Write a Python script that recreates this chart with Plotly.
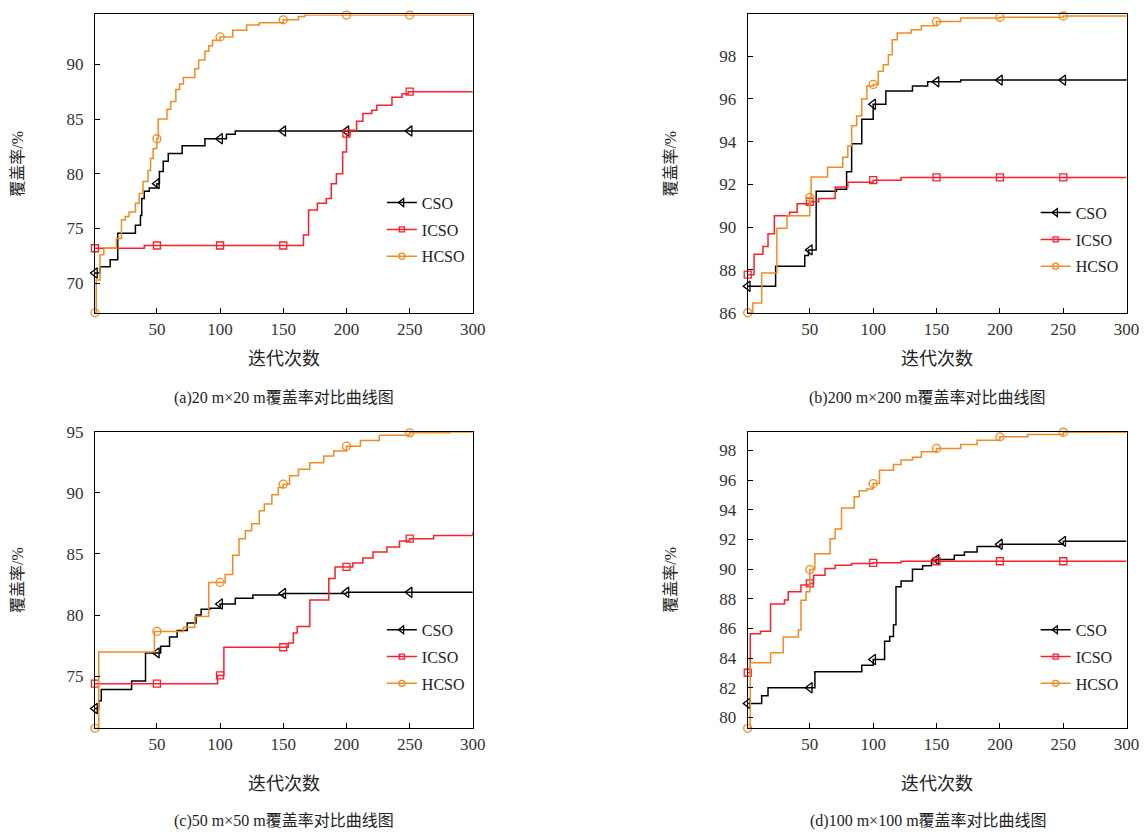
import plotly.graph_objects as go

# ---------------- data (step curves: iteration, coverage %) ----------------
marker_iters = [1, 50, 100, 150, 200, 250]
x_ticks = [50, 100, 150, 200, 250, 300]

# (a) 20 m x 20 m
a_cso_x = [1, 5, 13, 19, 33, 37, 38, 40, 44, 50, 52, 55, 59, 70, 88, 105, 112, 300]
a_cso_y = [70.94, 71.5, 72.15, 74.57, 75.3, 76.2, 77.75, 78.4, 78.7, 79.1, 80.2, 81.15, 81.85, 82.55, 83.2, 83.6, 83.9, 83.9]
a_icso_x = [1, 40, 166, 170, 177, 184, 188, 192, 197, 200, 203, 208, 213, 220, 224, 236, 244, 249, 300]
a_icso_y = [73.2, 73.45, 74.4, 76.7, 77.3, 77.75, 79.1, 80.0, 82.0, 83.66, 83.97, 84.8, 85.5, 85.8, 86.25, 87.0, 87.3, 87.5, 87.5]
a_hcso_x = [1, 2, 5, 8, 18, 22, 25, 28, 33, 36, 39, 43, 45, 47, 50, 51, 58, 61, 65, 68, 71, 80, 83, 88, 91, 94, 100, 110, 121, 131, 150, 162, 167, 300]
a_hcso_y = [67.3, 70.3, 72.6, 73.2, 74.1, 75.8, 76.1, 76.5, 77.3, 78.2, 79.3, 80.3, 81.4, 82.3, 83.2, 85.0, 85.9, 86.6, 87.7, 88.2, 88.8, 89.6, 90.4, 91.2, 91.7, 92.2, 92.5, 93.1, 93.6, 93.8, 94.06, 94.36, 94.5, 94.5]
a_yticks = [70, 75, 80, 85, 90]
a_yrange = [67.27, 94.55]

# (b) 200 m x 200 m
b_cso_x = [1, 23, 46, 49, 50, 55, 71, 79, 83, 91, 100, 110, 131, 143, 169, 300]
b_cso_y = [87.24, 88.17, 88.68, 88.94, 88.94, 91.68, 91.77, 92.6, 93.9, 95.05, 95.75, 96.37, 96.6, 96.8, 96.88, 96.94]
b_icso_x = [1, 6, 13, 17, 22, 34, 40, 50, 57, 70, 80, 100, 122, 300]
b_icso_y = [87.78, 88.74, 89.1, 89.7, 90.54, 90.7, 91.1, 91.19, 91.34, 91.88, 92.1, 92.2, 92.33, 92.33]
b_hcso_x = [1, 5, 12, 24, 32, 50, 51, 64, 76, 80, 83, 87, 91, 95, 100, 104, 108, 112, 115, 119, 130, 138, 150, 169, 200, 250, 300]
b_hcso_y = [86.0, 86.46, 87.86, 89.95, 90.54, 91.4, 92.35, 92.8, 93.27, 93.8, 94.75, 95.2, 96.0, 96.6, 96.68, 97.3, 97.6, 98.07, 98.77, 99.08, 99.24, 99.42, 99.62, 99.78, 99.82, 99.88, 99.9]
b_yticks = [86, 88, 90, 92, 94, 96, 98]
b_yrange = [85.98, 99.95]

# (c) 50 m x 50 m
c_cso_x = [1, 4, 6, 30, 41, 50, 53, 60, 66, 74, 81, 85, 92, 100, 112, 126, 150, 200, 300]
c_cso_y = [72.34, 72.97, 73.9, 74.6, 76.9, 76.9, 77.44, 78.2, 78.74, 79.34, 80.0, 80.47, 80.55, 80.9, 81.37, 81.64, 81.77, 81.86, 81.86]
c_icso_x = [1, 98, 103, 154, 158, 161, 171, 186, 191, 200, 205, 213, 221, 232, 242, 250, 269, 300]
c_icso_y = [74.38, 75.05, 77.36, 77.7, 78.52, 79.07, 81.23, 82.99, 83.94, 83.94, 84.27, 84.67, 85.16, 85.57, 86.06, 86.25, 86.52, 86.79]
c_hcso_x = [1, 4, 48, 50, 71, 80, 91, 100, 104, 110, 115, 120, 125, 131, 135, 141, 146, 150, 155, 162, 171, 182, 190, 200, 211, 226, 250, 282, 300]
c_hcso_y = [70.72, 76.98, 78.66, 78.66, 79.0, 79.88, 82.67, 82.67, 83.32, 84.9, 86.25, 86.9, 87.47, 88.55, 89.1, 89.85, 90.45, 90.72, 91.4, 91.94, 92.48, 93.02, 93.43, 93.83, 94.3, 94.73, 94.92, 95.0, 95.0]
c_yticks = [75, 80, 85, 90, 95]
c_yrange = [70.72, 95.02]

# (d) 100 m x 100 m
d_cso_x = [1, 12, 17, 50, 54, 91, 100, 109, 113, 116, 118, 122, 131, 139, 146, 150, 164, 172, 182, 200, 250, 300]
d_cso_y = [80.94, 81.45, 82.0, 82.0, 83.08, 83.52, 83.9, 85.13, 85.46, 86.25, 88.81, 89.19, 89.99, 90.22, 90.6, 90.64, 90.93, 91.15, 91.53, 91.67, 91.87, 91.87]
d_icso_x = [1, 3, 11, 19, 30, 33, 43, 50, 53, 62, 70, 83, 100, 122, 300]
d_icso_y = [83.01, 85.64, 85.8, 87.65, 87.92, 88.48, 88.92, 89.03, 89.59, 90.04, 90.26, 90.37, 90.42, 90.53, 90.53]
d_hcso_x = [1, 3, 19, 29, 41, 43, 47, 50, 54, 66, 70, 75, 85, 89, 95, 100, 105, 116, 122, 131, 138, 150, 169, 182, 200, 222, 250, 300]
d_hcso_y = [79.26, 83.68, 84.35, 85.42, 85.9, 87.9, 88.48, 89.97, 91.04, 92.05, 92.7, 94.12, 94.88, 95.28, 95.4, 95.77, 96.66, 97.06, 97.35, 97.55, 97.91, 98.14, 98.4, 98.69, 98.92, 99.07, 99.23, 99.25]
d_yticks = [80, 82, 84, 86, 88, 90, 92, 94, 96, 98]
d_yrange = [79.26, 99.27]

series_names = ["CSO", "ICSO", "HCSO"]
captions = ["(a)20 m×20 m覆盖率对比曲线图", "(b)200 m×200 m覆盖率对比曲线图",
            "(c)50 m×50 m覆盖率对比曲线图", "(d)100 m×100 m覆盖率对比曲线图"]
x_title = "迭代次数"
y_title = "覆盖率/%"

# ---------------- styling / layout ----------------
W, H = 1146, 837
# calibration of target picture positions to page positions
SX, SY, OY = 0.989, 0.9816, 6.5
FONT = "Liberation Serif, 'Noto Sans CJK SC', serif"
styles = [
    dict(color="#000000", symbol="triangle-left-open", size=9),
    dict(color="#FF1F2A", symbol="square-open", size=7),
    dict(color="#F58A1F", symbol="circle-open", size=8),
]


def px_x(v):
    return (v / SX) / W


def px_y(v):
    f = (v - OY) / SY
    return 1 - f / H


panels = [
    dict(data=[(a_cso_x, a_cso_y), (a_icso_x, a_icso_y), (a_hcso_x, a_hcso_y)],
         yticks=a_yticks, yrange=a_yrange, px=(95, 473), py=(12, 312),
         leg=(382, 184), xt=358, cap=397, capx=284),
    dict(data=[(b_cso_x, b_cso_y), (b_icso_x, b_icso_y), (b_hcso_x, b_hcso_y)],
         yticks=b_yticks, yrange=b_yrange, px=(748, 1127), py=(12, 312),
         leg=(1036, 194), xt=358, cap=397, capx=928),
    dict(data=[(c_cso_x, c_cso_y), (c_icso_x, c_icso_y), (c_hcso_x, c_hcso_y)],
         yticks=c_yticks, yrange=c_yrange, px=(95, 473), py=(431, 729),
         leg=(382, 613), xt=785, cap=822, capx=284),
    dict(data=[(d_cso_x, d_cso_y), (d_icso_x, d_icso_y), (d_hcso_x, d_hcso_y)],
         yticks=d_yticks, yrange=d_yrange, px=(748, 1127), py=(431, 729),
         leg=(1036, 613), xt=785, cap=822, capx=929),
]


def step_value(xs, ys, x):
    v = ys[0]
    for xi, yi in zip(xs, ys):
        if xi <= x:
            v = yi
    return v


fig = go.Figure()
layout = dict(
    width=W, height=H, margin=dict(l=0, r=0, t=0, b=0),
    paper_bgcolor="white", plot_bgcolor="white",
    font=dict(family=FONT, size=16, color="#222"),
    showlegend=True,
)
annotations = []

for i, p in enumerate(panels):
    suf = "" if i == 0 else str(i + 1)
    xa, ya = "x" + suf, "y" + suf
    leg = "legend" + suf
    x0, x1 = p["px"]
    y0, y1 = p["py"]
    layout["xaxis" + suf] = dict(
        domain=[px_x(x0), px_x(x1)], anchor=ya, range=[1, 300],
        tickvals=x_ticks, ticks="inside", ticklen=5, tickcolor="#000",
        showline=True, linecolor="#000", linewidth=1.3, mirror=True,
        showgrid=False, zeroline=False, tickfont=dict(size=17, color="#333"),
        ticklabelstandoff=0,
    )
    layout["yaxis" + suf] = dict(
        domain=[px_y(y1), px_y(y0)], anchor=xa, range=p["yrange"],
        tickvals=p["yticks"], ticks="inside", ticklen=5, tickcolor="#000",
        showline=True, linecolor="#000", linewidth=1.3, mirror=True,
        showgrid=False, zeroline=False, tickfont=dict(size=17, color="#333"),
        ticklabelstandoff=7,
    )
    lx, ly = p["leg"]
    layout[leg] = dict(
        x=px_x(lx), y=px_y(ly), xanchor="left", yanchor="top",
        bgcolor="rgba(0,0,0,0)", font=dict(family=FONT, size=16, color="#222"),
        itemwidth=30, traceorder="grouped", tracegroupgap=3,
    )
    for k, ((xs, ys), st) in enumerate(zip(p["data"], styles)):
        grp = f"g{i}{k}"
        fig.add_trace(go.Scatter(
            x=xs, y=ys, mode="lines", line=dict(color=st["color"], width=1.5, shape="hv"),
            xaxis=xa, yaxis=ya, showlegend=False, legendgroup=grp, hoverinfo="skip",
            cliponaxis=False,
        ))
        my = [step_value(xs, ys, m) for m in marker_iters]
        fig.add_trace(go.Scatter(
            x=marker_iters, y=my, mode="markers",
            marker=dict(symbol=st["symbol"], size=st["size"], color=st["color"],
                        line=dict(width=1.3, color=st["color"])),
            xaxis=xa, yaxis=ya, showlegend=False, legendgroup=grp, cliponaxis=False,
        ))
        fig.add_trace(go.Scatter(
            x=[None], y=[None], mode="lines+markers", name=series_names[k],
            line=dict(color=st["color"], width=1.5),
            marker=dict(symbol=st["symbol"], size=st["size"] - 2, color=st["color"],
                        line=dict(width=1.3, color=st["color"])),
            xaxis=xa, yaxis=ya, legend=leg, legendgroup=grp,
        ))
    cx = (x0 + x1) / 2
    annotations.append(dict(
        text=x_title, x=px_x(cx), y=px_y(p["xt"]), xref="paper", yref="paper",
        showarrow=False, font=dict(size=18, color="#222"), xanchor="center", yanchor="middle",
    ))
    annotations.append(dict(
        text=captions[i], x=px_x(p["capx"]), y=px_y(p["cap"]), xref="paper", yref="paper",
        showarrow=False, font=dict(size=16, color="#222"), xanchor="center", yanchor="middle",
    ))
    annotations.append(dict(
        text=y_title, x=px_x(x0 - 77), y=px_y((y0 + y1) / 2), xref="paper", yref="paper",
        showarrow=False, textangle=-90, font=dict(size=16, color="#222"),
        xanchor="center", yanchor="middle",
    ))

layout["annotations"] = annotations
fig.update_layout(**layout)
fig.write_html("out.html", config={"displayModeBar": False},
               post_script="document.body.style.margin='0';")
